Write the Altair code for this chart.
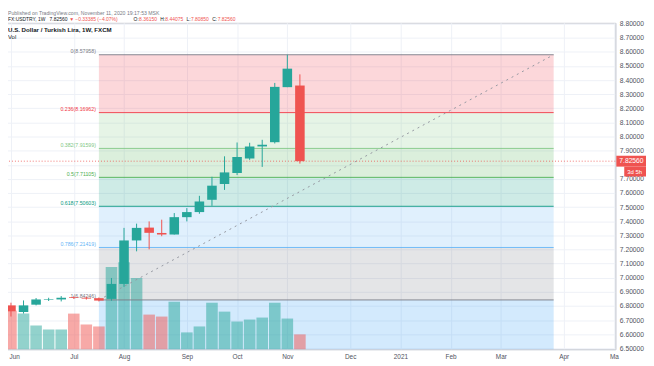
import altair as alt
import pandas as pd

# ---------------- data ----------------
# weekly bars, index 0 = week of 1 Jun 2020 ... index 23 = week of 9 Nov 2020
week_idx = list(range(24))
opens  = [6.804, 6.757, 6.809, 6.844, 6.846, 6.862, 6.858, 6.855, 6.850, 6.956, 7.264, 7.355,
          7.317, 7.306, 7.429, 7.465, 7.552, 7.664, 7.741, 7.844, 7.930, 7.960, 8.350, 8.3615]
highs  = [6.823, 6.839, 6.856, 6.858, 6.870, 6.868, 6.866, 6.860, 6.998, 7.353, 7.383, 7.399,
          7.411, 7.458, 7.493, 7.580, 7.715, 7.860, 7.958, 7.956, 7.977, 8.380, 8.5796, 8.44075]
lows   = [6.725, 6.746, 6.804, 6.835, 6.832, 6.850, 6.845, 6.832, 6.837, 6.935, 7.187, 7.201,
          7.294, 7.306, 7.399, 7.453, 7.509, 7.622, 7.727, 7.835, 7.785, 7.951, 8.350, 7.8085]
closes = [6.762, 6.804, 6.846, 6.848, 6.858, 6.857, 6.852, 6.838, 6.956, 7.264, 7.353, 7.318,
          7.306, 7.429, 7.465, 7.540, 7.652, 7.746, 7.855, 7.930, 7.942, 8.352, 8.481, 7.8256]
volumes = [39, 36, 24, 20, 20, 36, 25, 23, 83, 88, 72, 35, 33, 48, 17, 23, 47, 38, 28, 30, 32, 47, 31, 15]

month_idx = [0, 5, 9, 14, 18, 22, 27, 31, 35, 39, 44, 48]
month_labels = ["Jun", "Jul", "Aug", "Sep", "Oct", "Nov", "Dec", "2021", "Feb", "Mar", "Apr", "Ma"]

price_ticks = [6.5, 6.6, 6.7, 6.8, 6.9, 7.0, 7.1, 7.2, 7.3, 7.4, 7.5, 7.6,
               7.7, 7.8, 7.9, 8.0, 8.1, 8.2, 8.3, 8.4, 8.5, 8.6, 8.7, 8.8]

fib_ratios = [0, 0.236, 0.382, 0.5, 0.618, 0.786, 1]
fib_prices = [8.57958, 8.16962, 7.91599, 7.71105, 7.50603, 7.21419, 6.84246]
fib_colors = ["#787b86", "#f23645", "#81c784", "#4caf50", "#089981", "#64b5f6", "#787b86"]
fib_ext_price = 5.76888   # 1.618 level (below the visible range)
fib_ext_color = "#2196f3"
fib_start, fib_end = 7, 43.2

last_price = 7.8256
countdown = "3d 5h"

header1 = "Published on TradingView.com, November 11, 2020 19:17:53 MSK"
# (text, x in px from pane's left edge, colour)
header2 = [("FX:USDTRY, 1W", 5, "#131722"), ("7.82560", 47, "#131722"),
           ("\u25bc", 67, "#ef5350"), ("\u22120.33385 (\u22124.07%)", 73, "#ef5350"),
           ("O:", 132, "#131722"), ("8.36150", 137.5, "#ef5350"),
           ("H:", 159, "#131722"), ("8.44075", 164, "#ef5350"),
           ("L:", 185.5, "#131722"), ("7.80850", 190, "#ef5350"),
           ("C:", 211.5, "#131722"), ("7.82560", 217, "#ef5350")]
pane_title = "U.S. Dollar / Turkish Lira, 1W, FXCM"

# ---------------- layout ----------------
W, H = 619, 330
X_DOM = [-0.63, 48.11]
Y_DOM = [6.4934, 8.8059]
UP, DOWN = "#26a69a", "#ef5350"
FONT = "Liberation Sans"

xs = alt.Scale(domain=X_DOM, nice=False, zero=False)
ys = alt.Scale(domain=Y_DOM, nice=False, zero=False)

df = pd.DataFrame(dict(i=week_idx, o=opens, h=highs, l=lows, c=closes, v=volumes))
df["dir"] = ["up" if c >= o else "down" for o, c in zip(opens, closes)]
dir_color = alt.Color("dir:N", scale=alt.Scale(domain=["up", "down"], range=[UP, DOWN]), legend=None)

label_expr = ("[" + ",".join("'%s'" % s for s in month_labels) + "][indexof([" +
              ",".join(str(v) for v in month_idx) + "], datum.value)]")
# the axis label under the last-price tag is hidden, as on the reference
price_label_expr = "abs(datum.value - %g) < 0.05 ? '' : format(datum.value, '.5f')" % last_price

x_axis = alt.Axis(values=month_idx, labelExpr=label_expr, ticks=False, domain=True,
                  domainColor="#d1d4dc", grid=True, gridColor="#eef1f7", labelFontSize=6.5,
                  labelColor="#50535e", labelPadding=4, labelFont=FONT, title=None,
                  labelOverlap=False, labelFlush=False,
                  labelAlign=alt.condition("datum.value == 0", alt.value("left"), alt.value("center")),
                  labelOffset=alt.condition("datum.value == 0", alt.value(-2), alt.value(0)))
y_axis = alt.Axis(orient="right", values=price_ticks, labelExpr=price_label_expr, ticks=False,
                  domain=True, domainColor="#d1d4dc", grid=True, gridColor="#eef1f7",
                  labelFontSize=6.8, labelColor="#50535e", labelPadding=4, labelFont=FONT,
                  labelAlign="left", title=None, labelOverlap=False)


def X(field):
    return alt.X(field, scale=xs, axis=x_axis)


base = alt.Chart(df)

# fib bands
band_top = fib_prices
band_bot = fib_prices[1:] + [fib_ext_price]
band_col = fib_colors[1:] + [fib_ext_color]
bands_df = pd.DataFrame(dict(x0=[fib_start] * 7, x1=[fib_end] * 7, t=band_top, b=band_bot, col=band_col))
bands = alt.Chart(bands_df).mark_rect(opacity=0.2, clip=True).encode(
    x=X("x0:Q"), x2="x1:Q",
    y=alt.Y("t:Q", scale=ys, axis=None), y2="b:Q",
    color=alt.Color("col:N", scale=None))

lev_df = pd.DataFrame(dict(x0=[fib_start] * 7, x1=[fib_end] * 7, p=fib_prices, col=fib_colors,
                           lab=["%g(%.5f)" % (r, p) for r, p in zip(fib_ratios, fib_prices)]))
fib_lines = alt.Chart(lev_df).mark_rule(strokeWidth=1, opacity=0.9).encode(
    x=X("x0:Q"), x2="x1:Q",
    y=alt.Y("p:Q", scale=ys, axis=None), color=alt.Color("col:N", scale=None))
fib_labels = alt.Chart(lev_df).mark_text(align="right", baseline="alphabetic", dx=-3, dy=-1.5,
                                         fontSize=5.3, font=FONT).encode(
    x=X("x0:Q"), y=alt.Y("p:Q", scale=ys, axis=None),
    text="lab:N", color=alt.Color("col:N", scale=None))

trend_df = pd.DataFrame(dict(x=[fib_start, fib_end], p=[fib_prices[-1], fib_prices[0]]))
trend = alt.Chart(trend_df).mark_line(color="#9598a1", strokeWidth=1, strokeDash=[2, 4]).encode(
    x=X("x:Q"), y=alt.Y("p:Q", scale=ys, axis=None))

vol = base.mark_rect(opacity=0.5).transform_calculate(
    x0="datum.i - 0.46", x1="datum.i + 0.46", z="0").encode(
    x=X("x0:Q"), x2="x1:Q",
    y=alt.Y("v:Q", scale=alt.Scale(domain=[0, H], nice=False), axis=None), y2="z:Q",
    color=dir_color)

wicks = base.mark_rule(strokeWidth=1).encode(
    x=X("i:Q"),
    y=alt.Y("l:Q", scale=ys, axis=y_axis), y2="h:Q", color=dir_color)

bodies = base.mark_rect().transform_calculate(
    b0="datum.i - 0.38", b1="datum.i + 0.38").encode(
    x=X("b0:Q"), x2="b1:Q",
    y=alt.Y("o:Q", scale=ys, axis=None), y2="c:Q", color=dir_color)

last_df = pd.DataFrame(dict(p=[last_price], lab=["%.5f" % last_price], cd=[countdown]))
last_line = alt.Chart(last_df).mark_rule(color=DOWN, strokeDash=[1, 2], opacity=0.8).encode(
    y=alt.Y("p:Q", scale=ys, axis=None))
last_box = alt.Chart(last_df).mark_rule(color=DOWN, strokeWidth=11, strokeCap="butt").encode(
    x=alt.value(W + 1), x2=alt.value(W + 33), y=alt.Y("p:Q", scale=ys, axis=None))
last_txt = alt.Chart(last_df).mark_text(color="white", align="left", fontSize=6.8, font=FONT).encode(
    x=alt.value(W + 4), y=alt.Y("p:Q", scale=ys, axis=None), text="lab:N")
cd_box = alt.Chart(last_df).mark_rule(color=DOWN, strokeWidth=10, strokeCap="butt").encode(
    x=alt.value(W + 9), x2=alt.value(W + 33), y=alt.Y("p:Q", scale=ys, axis=None),
    yOffset=alt.value(10.5))
cd_txt = alt.Chart(last_df).mark_text(color="white", align="left", fontSize=6, font=FONT, dy=10.5).encode(
    x=alt.value(W + 12), y=alt.Y("p:Q", scale=ys, axis=None), text="cd:N")

one = pd.DataFrame(dict(k=[0]))
texts = [alt.Chart(one).mark_text(text=header1, align="left", baseline="alphabetic", fontSize=5.2,
                                  font=FONT, color="#787b86").encode(x=alt.value(5), y=alt.value(-7.5))]
for t, xx, col in header2:
    texts.append(alt.Chart(one).mark_text(text=t, align="left", baseline="alphabetic", fontSize=5.0,
                                          font=FONT, color=col).encode(
        x=alt.value(xx), y=alt.value(-1.5)))
texts.append(alt.Chart(one).mark_text(text=pane_title, align="left", baseline="middle", fontSize=6.2,
                                      font=FONT, color="#131722", fontWeight="bold").encode(
    x=alt.value(5), y=alt.value(7.5)))
texts.append(alt.Chart(one).mark_text(text="Vol", align="left", baseline="middle", fontSize=6.0,
                                      font=FONT, color="#131722").encode(x=alt.value(5), y=alt.value(14)))

chart = alt.layer(
    bands, vol, fib_lines, trend, fib_labels, last_line, wicks, bodies,
    last_box, last_txt, cd_box, cd_txt, *texts
).resolve_scale(y="independent").properties(
    width=W, height=H,
    autosize=alt.AutoSizeParams(type="none"),
    padding={"left": -5, "top": 13, "right": 31, "bottom": 15},
    background="white",
).configure_view(stroke="#c8cbd2", strokeWidth=1)

chart.save("out.html", embed_options={"renderer": "svg", "actions": False})
